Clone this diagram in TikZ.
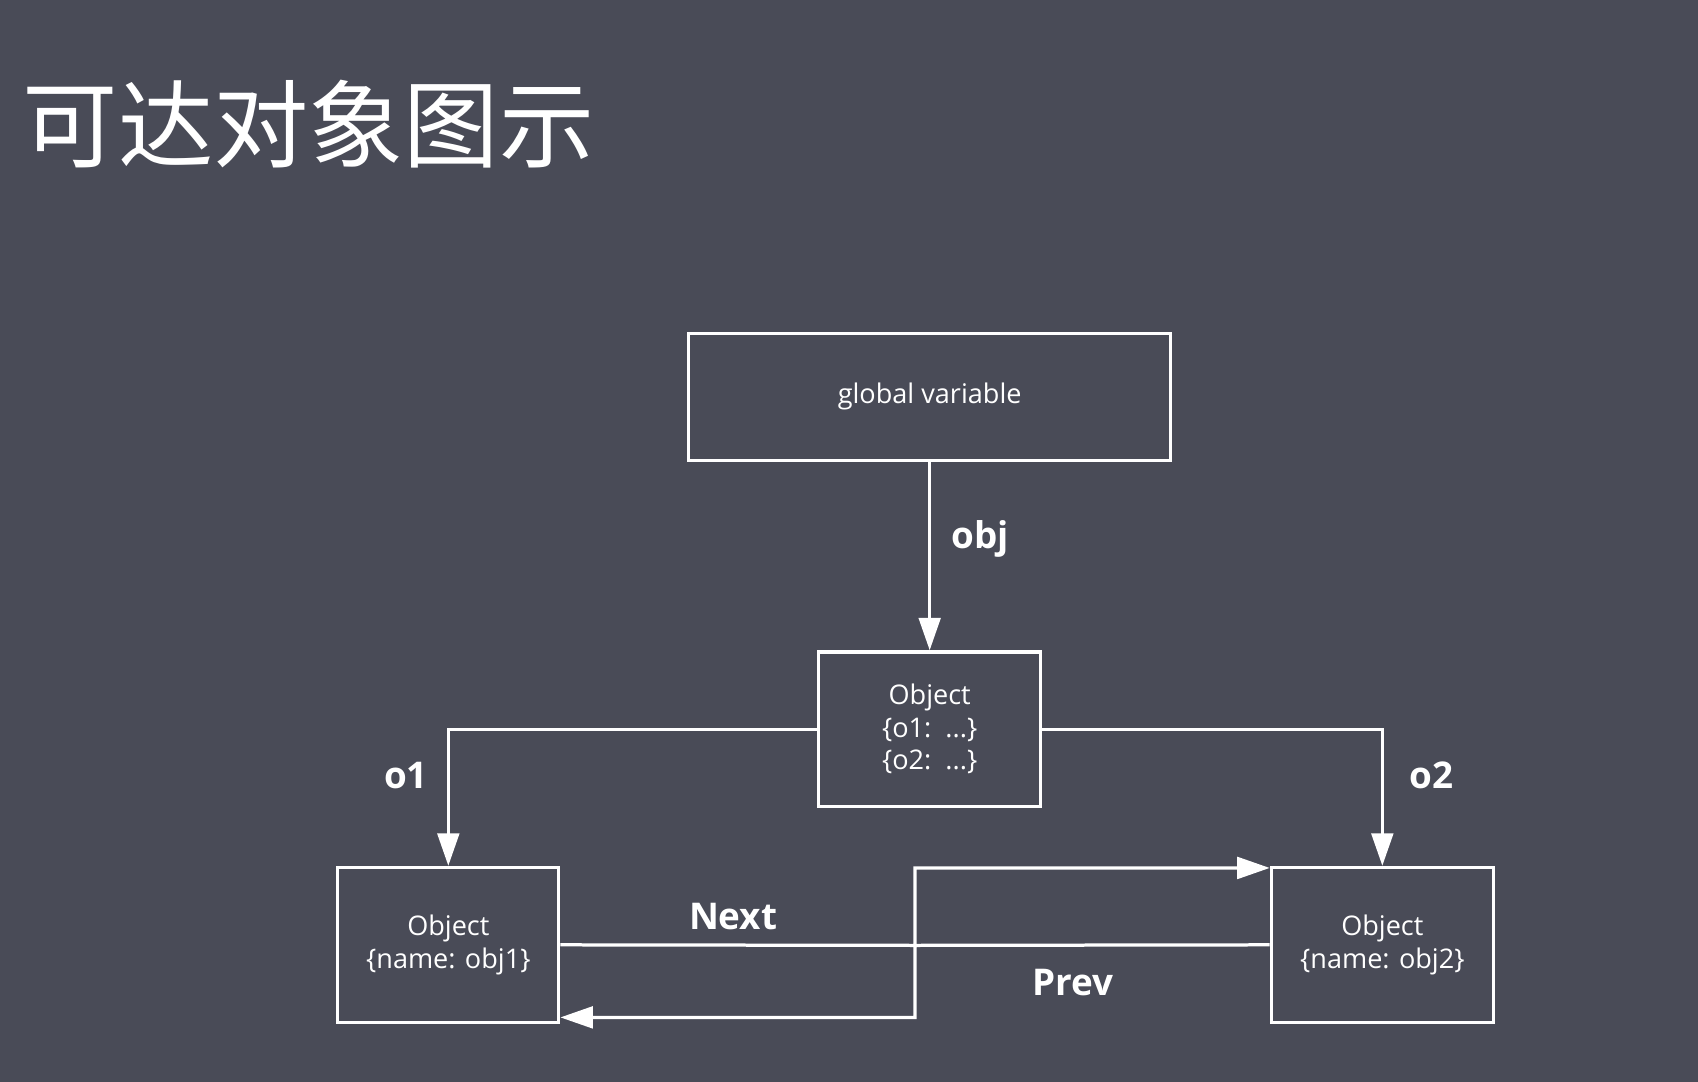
\documentclass[tikz,border=0pt]{standalone}
\usepackage{fontspec}
\setmainfont{Open Sans}
\newfontfamily\cjk{Noto Sans CJK SC}
\usetikzlibrary{arrows.meta,calc}
\definecolor{bg}{HTML}{494B57}
\begin{document}
\begin{tikzpicture}[x=0.5pt,y=-0.5pt,
  box/.style={draw=white,line width=1.5pt,text=white,align=center,font=\fontsize{12.5}{15}\selectfont,inner sep=0pt},
  conn/.style={draw=white,line width=1.5pt,-{Triangle[length=15pt,width=10pt,fill=white]}},
  lab/.style={text=white,font=\fontsize{17}{20}\selectfont\bfseries}]
\fill[bg] (0,0) rectangle (1568,999);
\useasboundingbox (0,0) rectangle (1568,999);
\node[anchor=west,text=white,font=\cjk\fontsize{44}{50}\selectfont] (title) at (14,115) {可达对象图示};
\node[box,minimum width=222.5pt,minimum height=58.5pt] (gv) at (858.5,366.5) {global variable};
\node[box,minimum width=102.5pt,minimum height=71.5pt] (o) at (858.5,673.5) {Object\\\{o1:\ \ ...\}\\\{o2:\ \ ...\}};
\node[box,minimum width=102pt,minimum height=71.5pt] (a) at (414,872.5) {Object\\\{name: obj1\}};
\node[box,minimum width=102.5pt,minimum height=71.5pt] (b) at (1276.5,872.5) {Object\\\{name: obj2\}};
\coordinate (m) at (845,873);
\draw[conn] (gv.south) -- (o.north);
\node[lab] (lobj) at (905,498) {obj};
\draw[conn] (o.west) -| (a.north);
\node[lab] (lo1) at (375,716) {o1};
\draw[conn] (o.east) -| (b.north);
\node[lab] (lo2) at (1322,716) {o2};
\draw[conn] (a.east) -- (m) -- (m|-{$(b.north west)+(0,2)$}) -- ($(b.north west)+(0,2)$);
\node[lab] (lnext) at (677,846) {Next};
\draw[conn] (b.west) -- (m) -- (m|-{$(a.south east)+(0,-6)$}) -- ($(a.south east)+(0,-6)$);
\node[lab] (lprev) at (991,907) {Prev};
\end{tikzpicture}
\end{document}
